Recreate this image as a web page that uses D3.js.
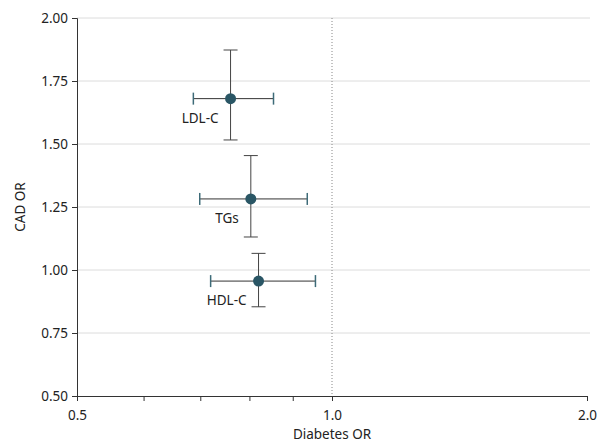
<!DOCTYPE html>
<html>
<head>
<meta charset="utf-8">
<script src="https://cdn.jsdelivr.net/npm/d3@7"></script>
<style>
  body { margin: 0; background: #fff; }
  text { font-family: "Noto Sans", sans-serif; fill: #222; }
</style>
</head>
<body>
<script>
const lipids = ["LDL-C", "TGs", "HDL-C"];
const diabetesOR = [0.759, 0.802, 0.819];
const diabetesLow = [0.686, 0.698, 0.719];
const diabetesHigh = [0.853, 0.935, 0.956];
const cadOR = [1.68, 1.282, 0.956];
const cadLow = [1.516, 1.131, 0.854];
const cadHigh = [1.873, 1.454, 1.066];
const xTicks = [0.5, 1.0, 2.0];
const xMinor = [0.6, 0.7, 0.8, 0.9];
const yTicks = [0.5, 0.75, 1.0, 1.25, 1.5, 1.75, 2.0];

const data = lipids.map((name, i) => ({
  name,
  x: diabetesOR[i], xlo: diabetesLow[i], xhi: diabetesHigh[i],
  y: cadOR[i], ylo: cadLow[i], yhi: cadHigh[i]
}));

const margin = { top: 18, right: 13, bottom: 48, left: 77 };
const width = 600 - margin.left - margin.right;
const height = 444 - margin.top - margin.bottom;
const fs = "13.5px";

const svg = d3.select("body").append("svg")
  .attr("width", 600).attr("height", 444);
const g = svg.append("g")
  .attr("transform", `translate(${margin.left},${margin.top})`);

const x = d3.scaleLog().domain([0.5, 2]).range([0, width]);
const y = d3.scaleLinear().domain([0.5, 2]).range([height, 0]);

// gridlines
g.append("g").selectAll("line").data(yTicks.slice(1)).join("line")
  .attr("x1", 0).attr("x2", width + 3)
  .attr("y1", d => y(d)).attr("y2", d => y(d))
  .attr("stroke", "#dcdcdc").attr("stroke-width", 1);

// reference line at OR = 1
g.append("line")
  .attr("x1", x(1)).attr("x2", x(1))
  .attr("y1", 0).attr("y2", height)
  .attr("stroke", "#888").attr("stroke-width", 1)
  .attr("stroke-dasharray", "1,2");

const xaxis = g.append("g").attr("transform", `translate(0,${height})`)
  .call(d3.axisBottom(x).tickValues(xTicks).tickFormat(d3.format(".1f")).tickSize(5).tickPadding(9));
g.append("g").attr("transform", `translate(0,${height})`)
  .selectAll("line").data(xMinor).join("line")
  .attr("x1", d => x(d)).attr("x2", d => x(d))
  .attr("y1", 0).attr("y2", 5)
  .attr("stroke", "#333");
const yaxis = g.append("g")
  .call(d3.axisLeft(y).tickValues(yTicks).tickFormat(d3.format(".2f")).tickSize(5).tickPadding(4));

[xaxis, yaxis].forEach(a => {
  a.select(".domain").attr("stroke", "#333");
  a.selectAll(".tick line").attr("stroke", "#333");
  a.selectAll("text").style("font-size", fs).attr("fill", "#222");
});

svg.append("text")
  .attr("x", margin.left + x(1)).attr("y", 439)
  .attr("text-anchor", "middle").style("font-size", fs)
  .text("Diabetes OR");
svg.append("text")
  .attr("transform", `translate(25,${margin.top + height / 2}) rotate(-90)`)
  .attr("text-anchor", "middle").style("font-size", fs)
  .text("CAD OR");

const marks = g.append("g").selectAll("g").data(data).join("g");

// vertical CI (CAD)
marks.append("line")
  .attr("x1", d => x(d.x)).attr("x2", d => x(d.x))
  .attr("y1", d => y(d.yhi)).attr("y2", d => y(d.ylo))
  .attr("stroke", "#444");
marks.selectAll(".vcap").data(d => [[d.x, d.yhi], [d.x, d.ylo]]).join("line")
  .attr("x1", d => x(d[0]) - 7).attr("x2", d => x(d[0]) + 7)
  .attr("y1", d => y(d[1])).attr("y2", d => y(d[1]))
  .attr("stroke", "#444");

// horizontal CI (diabetes)
marks.append("line")
  .attr("x1", d => x(d.xlo)).attr("x2", d => x(d.xhi))
  .attr("y1", d => y(d.y)).attr("y2", d => y(d.y))
  .attr("stroke", "#333");
marks.selectAll(".hcap").data(d => [[d.xlo, d.y], [d.xhi, d.y]]).join("line")
  .attr("x1", d => x(d[0])).attr("x2", d => x(d[0]))
  .attr("y1", d => y(d[1]) - 6).attr("y2", d => y(d[1]) + 6)
  .attr("stroke", "#3d6b78").attr("stroke-width", 1.5);

marks.append("circle")
  .attr("cx", d => x(d.x)).attr("cy", d => y(d.y))
  .attr("r", 5.5).attr("fill", "#2a5665");

marks.append("text")
  .attr("x", d => x(d.x) - 12).attr("y", d => y(d.y) + 24)
  .attr("text-anchor", "end").style("font-size", fs)
  .text(d => d.name);
</script>
</body>
</html>
